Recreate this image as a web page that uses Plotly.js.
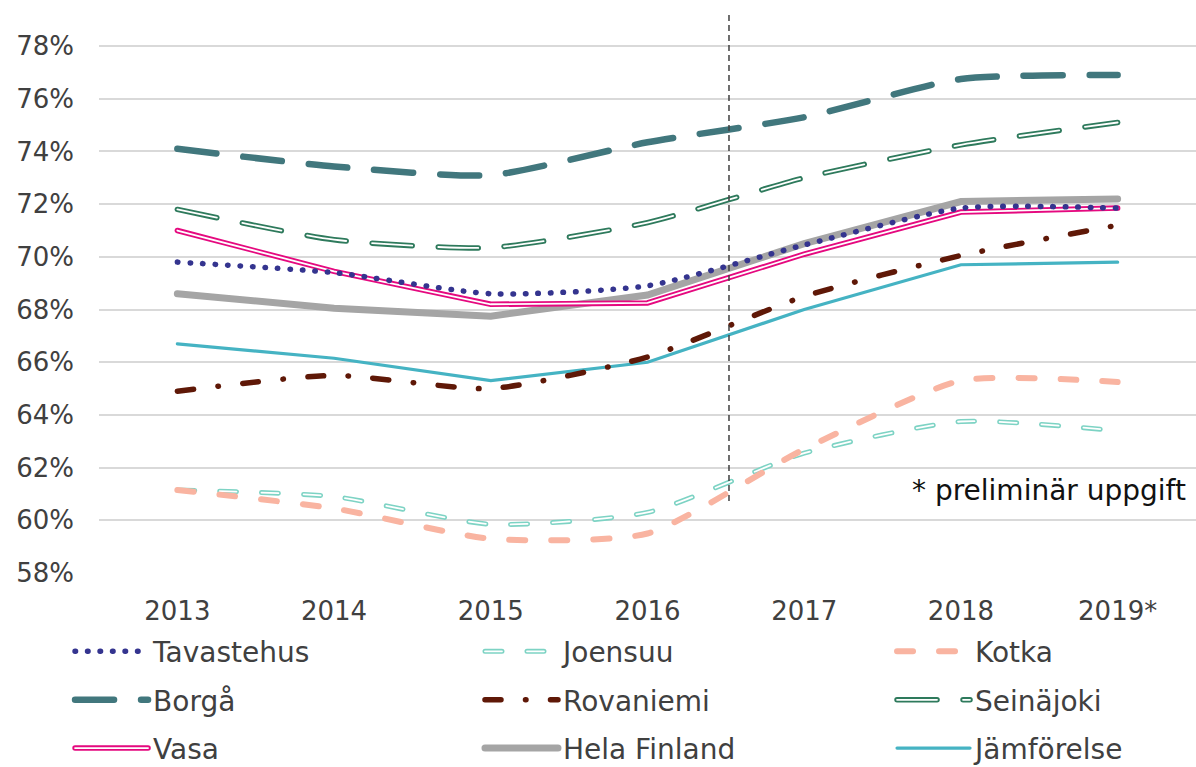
<!DOCTYPE html>
<html><head><meta charset="utf-8">
<script src="https://cdn.plot.ly/plotly-3.0.1.min.js"></script>
<style>html,body{margin:0;padding:0;background:#fff}#chart{width:1196px;height:767px}
.infolayer rect.scrollbar{display:none}
.infolayer g.scrollbox{clip-path:none !important}
path.js-line{stroke-linecap:round !important}</style>
</head><body><div id="chart"></div>
<script>
const years = ['2013','2014','2015','2016','2017','2018','2019*'];
const tavastehus = [69.8, 69.4, 68.6, 68.9, 70.45, 71.85, 71.85];
const joensuu    = [61.15, 60.9, 59.85, 60.3, 62.55, 63.75, 63.4];
const kotka      = [61.15, 60.45, 59.3, 59.5, 62.7, 65.3, 65.25];
const borga      = [74.1, 73.43, 73.1, 74.35, 75.3, 76.75, 76.9];
const rovaniemi  = [64.9, 65.5, 65.0, 66.2, 68.5, 70.05, 71.2];
const seinajoki  = [71.8, 70.65, 70.35, 71.3, 73.0, 74.25, 75.1];
const vasa       = [71.0, 69.45, 68.2, 68.25, 70.1, 71.7, 71.85];
const helaFinland= [68.6, 68.05, 67.75, 68.55, 70.5, 72.1, 72.2];
const jamforelse = [66.7, 66.15, 65.3, 66.0, 68.0, 69.7, 69.8];
const yTicks = [58,60,62,64,66,68,70,72,74,76,78];
const yTickText = yTicks.map(v => v + '%');
const note = '* preliminär uppgift';

const FONT = '"DejaVu Sans", Inter, sans-serif';
const TXT = '#404040';

function tr(name, y, color, width, dash, shape, leg, rank) {
  return {
    type: 'scatter', mode: 'lines', x: years, y: y, name: name,
    line: {color: color, width: width, dash: dash, shape: shape, smoothing: 0.6},
    legend: leg, legendgroup: name, legendrank: rank, hoverinfo: 'skip'
  };
}
function inner(y, dash, shape, leg) {
  const t = {type: 'scatter', mode: 'lines', x: years, y: y, hoverinfo: 'skip',
    line: {color: '#ffffff', width: 1.8, dash: dash, shape: shape, smoothing: 0.6}};
  if (leg) { t.name = ' '; t.showlegend = true; t.legend = leg; t.legendgroup = leg; }
  else { t.showlegend = false; }
  return t;
}

const traces = [
  tr('Hela Finland', helaFinland, '#A5A5A5', 7, 'solid', 'linear', 'legend2', 3),
  tr('Jämförelse', jamforelse, '#45B3C3', 3.2, 'solid', 'linear', 'legend3', 3),
  tr('Vasa', vasa, '#E5097F', 5.5, 'solid', 'linear', 'legend', 3),
  inner(vasa, 'solid', 'linear'),
  tr('Tavastehus', tavastehus, '#34348F', 5.5, '0.5px,12px', 'spline', 'legend', 1),
  tr('Joensuu', joensuu, '#7DD3C4', 5, '17px,25px', 'spline', 'legend2', 1),
  inner(joensuu, '17px,25px', 'spline', 'legend4'),
  tr('Kotka', kotka, '#F9B4A1', 6, '16px,26px', 'spline', 'legend3', 1),
  tr('Rovaniemi', rovaniemi, '#5F1807', 5.5, '16px,24.5px,0.5px,24.5px', 'spline', 'legend2', 2),
  tr('Seinäjoki', seinajoki, '#2E7A5C', 5.5, '40px,26px', 'spline', 'legend3', 2),
  inner(seinajoki, '40px,26px', 'spline', 'legend5'),
  tr('Borgå', borga, '#41777D', 6.5, '39px,27px', 'spline', 'legend', 2)
];

const LEG_Y = -0.0961;
const ROW = 0.08692;
function legendAt(x, y) {
  return {orientation: 'v', x: x, xanchor: 'left', y: y, yanchor: 'top',
    itemwidth: 73, traceorder: 'grouped', tracegroupgap: 9,
    font: {size: 28, color: TXT, family: FONT}, bgcolor: 'rgba(0,0,0,0)', borderwidth: 0};
}

const layout = {
  width: 1196, height: 767,
  margin: {l: 99, r: 0, t: 15, b: 194, autoexpand: false},
  paper_bgcolor: '#fff', plot_bgcolor: '#fff',
  font: {family: FONT, size: 26, color: TXT},
  showlegend: true,
  xaxis: {type: 'category', range: [-0.5, 6.5], showgrid: false, zeroline: false, showline: false,
    ticks: '', ticklabelstandoff: 20, tickfont: {size: 26, color: TXT}, fixedrange: true},
  yaxis: {range: [58, 79.18], tickvals: yTicks, ticktext: yTickText, showgrid: true,
    gridcolor: '#D9D9D9', gridwidth: 2, zeroline: false, showline: false, ticks: '',
    ticklabelstandoff: 24, tickfont: {size: 26, color: TXT}, fixedrange: true},
  legend: legendAt(-0.0264, LEG_Y),
  legend2: legendAt(0.3473, LEG_Y),
  legend3: legendAt(0.7229, LEG_Y),
  legend4: legendAt(0.3473, LEG_Y),
  legend5: legendAt(0.7229, LEG_Y - ROW),
  shapes: [{type: 'line', xref: 'x', yref: 'paper', x0: 3.52, x1: 3.52, y0: 1, y1: 0.125,
    line: {color: '#404040', width: 1.5, dash: '6px,4px'}}],
  annotations: [{text: note, xref: 'paper', yref: 'y', x: 0.993, y: 61.15, xanchor: 'right',
    yanchor: 'middle', showarrow: false, font: {size: 28, color: '#111'}}]
};

const doubles = {'Vasa': 1};
function decorate() {
  document.querySelectorAll('path.js-line').forEach(function(p) {
    p.style.strokeLinecap = 'round';
  });
  document.querySelectorAll('.infolayer g.scrollbox').forEach(function(s) {
    s.removeAttribute('clip-path');
  });
  document.querySelectorAll('g.traces').forEach(function(g) {
    const t = g.querySelector('.legendtext');
    if (!t) return;
    const name = (t.getAttribute('data-unformatted') || t.textContent || '').trim();
    if (!doubles[name]) return;
    if (g.querySelector('.white-inner')) return;
    const paths = g.querySelectorAll('path.js-line');
    if (!paths.length) return;
    const p = paths[paths.length - 1];
    const c = p.cloneNode(true);
    c.classList.remove('js-line');
    c.classList.add('white-inner');
    c.style.stroke = '#ffffff';
    c.style.strokeWidth = '1.8px';
    c.style.strokeOpacity = '1';
    c.style.strokeLinecap = 'round';
    p.parentNode.appendChild(c);
  });
}

Plotly.newPlot('chart', traces, layout, {staticPlot: true, displayModeBar: false}).then(function(gd) {
  decorate();
  gd.on('plotly_afterplot', decorate);
  [50, 200, 350, 450, 600, 800, 1000, 1500].forEach(function(ms) { setTimeout(decorate, ms); });
});
</script>
</body></html>
